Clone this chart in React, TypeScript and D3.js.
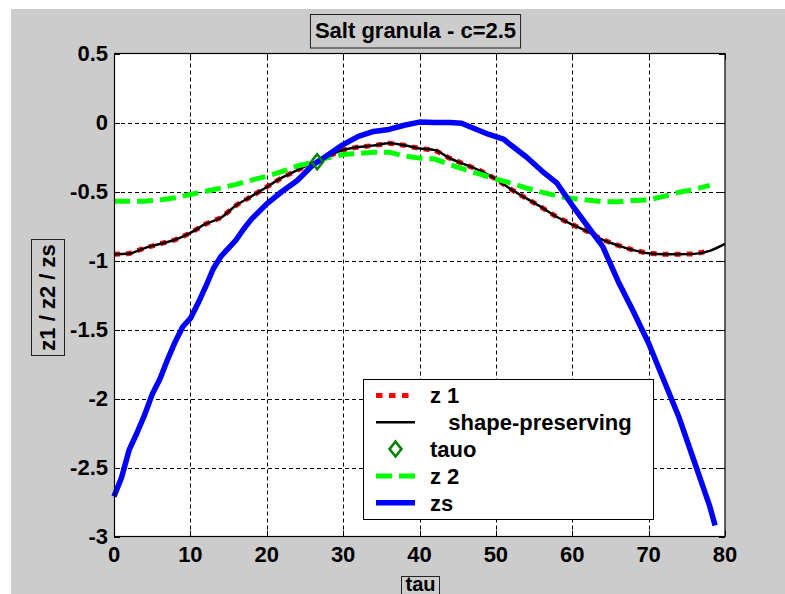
import React, { useRef, useEffect } from 'react';
import * as d3 from 'd3';

// z1 and z2 are sampled every 2 units of tau
const tauGrid = [0, 2, 4, 6, 8, 10, 12, 14, 16, 18, 20, 22, 24, 26, 28, 30, 32, 34, 36, 38,
  40, 42, 44, 46, 48, 50, 52, 54, 56, 58, 60, 62, 64, 66, 68, 70, 72, 74, 76, 78];
const z1Values = [-0.955, -0.95, -0.91, -0.88, -0.85, -0.8, -0.735, -0.69, -0.6, -0.535,
  -0.467, -0.4, -0.345, -0.295, -0.245, -0.198, -0.178, -0.167, -0.15, -0.165,
  -0.188, -0.2, -0.26, -0.305, -0.35, -0.41, -0.485, -0.55, -0.615, -0.685,
  -0.74, -0.79, -0.85, -0.89, -0.925, -0.948, -0.955, -0.955, -0.952, -0.93];
const z2Values = [-0.57, -0.57, -0.57, -0.562, -0.545, -0.522, -0.498, -0.475, -0.448, -0.418,
  -0.39, -0.355, -0.315, -0.29, -0.255, -0.232, -0.225, -0.215, -0.215, -0.243,
  -0.258, -0.265, -0.305, -0.342, -0.375, -0.41, -0.44, -0.475, -0.505, -0.532,
  -0.55, -0.562, -0.575, -0.575, -0.565, -0.56, -0.535, -0.505, -0.485, -0.455];
// the shape-preserving fit runs on to the end of the axis
const fitTau = [...tauGrid, 80];
const fitValues = [...z1Values, -0.88];

const zsTau = [0, 1, 2, 3, 4, 5, 6, 7, 8, 9, 10, 11, 12, 13, 14, 15, 16, 17, 18, 20, 22, 24, 26, 28,
  30, 32, 34, 36, 38, 40, 42, 44, 45.5, 47, 49, 51, 52, 54, 56, 58, 60, 62, 64, 66, 68, 70, 72,
  74, 76, 77, 78, 78.7];
const zsValues = [-2.71, -2.57, -2.37, -2.25, -2.12, -1.97, -1.86, -1.72, -1.59, -1.48, -1.42,
  -1.31, -1.19, -1.06, -0.97, -0.91, -0.85, -0.77, -0.7, -0.59, -0.5, -0.42, -0.31, -0.235,
  -0.16, -0.1, -0.065, -0.05, -0.02, 0.003, 0, 0, -0.005, -0.04, -0.085, -0.12, -0.165, -0.25,
  -0.35, -0.44, -0.6, -0.75, -0.9, -1.15, -1.37, -1.6, -1.87, -2.14, -2.46, -2.62, -2.78, -2.92];

const tauo = [26.6];
const tauoValue = [-0.285];

const xTicks = [0, 10, 20, 30, 40, 50, 60, 70, 80];
const yTicks = [0.5, 0, -0.5, -1, -1.5, -2, -2.5, -3];

const legendLabels = ['z 1', '   shape-preserving', 'tauo', 'z 2', 'zs'];

const FONT = '"Liberation Sans", Arial, sans-serif';

const App = () => {
  const svgRef = useRef<SVGSVGElement>(null);

  useEffect(() => {
    const width = 785;
    const height = 594;
    const left = 114, right = 725, top = 53.5, bottom = 536.5;
    const svg = d3.select(svgRef.current);
    svg.selectAll('*').remove();

    const x = d3.scaleLinear().domain([0, 80]).range([left, right]);
    const y = d3.scaleLinear().domain([-3, 0.5]).range([bottom, top]);

    svg.append('rect').attr('width', width).attr('height', height).attr('fill', '#ffffff');
    svg.append('rect').attr('x', 11).attr('y', 9).attr('width', width - 11).attr('height', height - 9)
      .attr('fill', '#cccccc');
    svg.append('rect').attr('x', left).attr('y', top).attr('width', right - left).attr('height', bottom - top)
      .attr('fill', '#ffffff');

    // grid
    const grid = svg.append('g').attr('stroke', '#000').attr('stroke-width', 1)
      .attr('stroke-dasharray', '4 3');
    grid.selectAll('line.gx').data(xTicks.slice(1, -1)).join('line')
      .attr('x1', d => Math.round(x(d)) + 0.5).attr('x2', d => Math.round(x(d)) + 0.5)
      .attr('y1', bottom).attr('y2', top);
    grid.selectAll('line.gy').data(yTicks.slice(1, -1)).join('line')
      .attr('y1', d => Math.round(y(d)) + 0.5).attr('y2', d => Math.round(y(d)) + 0.5)
      .attr('x1', left).attr('x2', right);

    // ticks inside on all four sides
    const tk = 6;
    const ticks = svg.append('g').attr('stroke', '#000').attr('stroke-width', 1);
    xTicks.forEach(t => {
      const px = Math.round(x(t)) + 0.5;
      ticks.append('line').attr('x1', px).attr('x2', px).attr('y1', bottom).attr('y2', bottom - tk);
      ticks.append('line').attr('x1', px).attr('x2', px).attr('y1', top).attr('y2', top + tk);
    });
    yTicks.forEach(t => {
      const py = Math.round(y(t)) + 0.5;
      ticks.append('line').attr('y1', py).attr('y2', py).attr('x1', left).attr('x2', left + tk);
      ticks.append('line').attr('y1', py).attr('y2', py).attr('x1', right).attr('x2', right - tk);
    });

    const plot = svg.append('g');

    const lineOf = (ts: number[], vs: number[], curve = d3.curveLinear) =>
      d3.line<number>().x((_, i) => x(ts[i])).y(d => y(d)).curve(curve)(vs);

    plot.append('path').attr('d', lineOf(tauGrid, z1Values)).attr('fill', 'none')
      .attr('stroke', '#ff0000').attr('stroke-width', 5).attr('stroke-dasharray', '6 6');
    plot.append('path').attr('d', lineOf(fitTau, fitValues, d3.curveMonotoneX)).attr('fill', 'none')
      .attr('stroke', '#000').attr('stroke-width', 2.5);
    plot.append('path').attr('d', lineOf(tauGrid, z2Values)).attr('fill', 'none')
      .attr('stroke', '#00ff00').attr('stroke-width', 5).attr('stroke-dasharray', '16 7');
    plot.append('path').attr('d', lineOf(zsTau, zsValues)).attr('fill', 'none')
      .attr('stroke', '#0000ff').attr('stroke-width', 5.5).attr('stroke-linejoin', 'round');

    const diamond = (cx: number, cy: number) =>
      `M${cx},${cy - 7.5}L${cx + 6},${cy}L${cx},${cy + 7.5}L${cx - 6},${cy}Z`;
    plot.selectAll('path.tauo').data(tauo).join('path')
      .attr('d', (d, i) => diamond(x(d), y(tauoValue[i])))
      .attr('fill', 'none').attr('stroke', '#008000').attr('stroke-width', 2.5);

    // axes box
    svg.append('rect').attr('x', left + 0.5).attr('y', top).attr('width', right - left - 0.5)
      .attr('height', bottom - top).attr('fill', 'none').attr('stroke', '#000').attr('stroke-width', 1.2);

    const text = svg.append('g').attr('font-family', FONT).attr('font-size', 22)
      .attr('font-weight', 'bold').attr('fill', '#000');

    text.selectAll('text.xt').data(xTicks).join('text')
      .attr('x', d => x(d)).attr('y', 562).attr('text-anchor', 'middle').text(d => d);
    text.selectAll('text.yt').data(yTicks).join('text')
      .attr('x', 108).attr('y', d => y(d)).attr('dy', '0.36em').attr('text-anchor', 'end').text(d => d);

    // title with box
    const title = text.append('text').attr('x', 415.5).attr('y', 37.5).attr('text-anchor', 'middle')
      .text('Salt granula - c=2.5');
    const tb = (title.node() as SVGTextElement).getBBox();
    svg.insert('rect', 'g').attr('x', tb.x - 4.5).attr('y', 14.5).attr('width', tb.width + 9).attr('height', 33.5)
      .attr('fill', '#cccccc').attr('stroke', '#222').attr('stroke-width', 1);

    // y label
    svg.append('rect').attr('x', 31.5).attr('y', 239.5).attr('width', 33).attr('height', 116)
      .attr('fill', 'none').attr('stroke', '#222').attr('stroke-width', 1);
    text.append('text').attr('transform', 'translate(55,297.5) rotate(-90)').attr('text-anchor', 'middle')
      .text('z1 / z2 / zs');

    // x label
    svg.append('rect').attr('x', 401.5).attr('y', 576.5).attr('width', 38).attr('height', 30)
      .attr('fill', 'none').attr('stroke', '#222').attr('stroke-width', 1);
    text.append('text').attr('x', 420.5).attr('y', 591).attr('font-size', 20).attr('text-anchor', 'middle')
      .text('tau');

    // legend
    const lg = svg.append('g');
    lg.append('rect').attr('x', 363.5).attr('y', 379.5).attr('width', 290).attr('height', 140)
      .attr('fill', '#ffffff').attr('stroke', '#000').attr('stroke-width', 1);
    const rowY = (i: number) => 395.5 + i * 26.8;
    const x0 = 376, x1 = 415;
    lg.append('line').attr('x1', x0).attr('x2', x1).attr('y1', rowY(0)).attr('y2', rowY(0))
      .attr('stroke', '#ff0000').attr('stroke-width', 5).attr('stroke-dasharray', '6.5 6.5');
    lg.append('line').attr('x1', x0).attr('x2', x1).attr('y1', rowY(1)).attr('y2', rowY(1))
      .attr('stroke', '#000').attr('stroke-width', 2.5);
    lg.append('path').attr('d', diamond((x0 + x1) / 2, rowY(2)))
      .attr('fill', 'none').attr('stroke', '#008000').attr('stroke-width', 2.5);
    lg.append('line').attr('x1', x0).attr('x2', x1).attr('y1', rowY(3)).attr('y2', rowY(3))
      .attr('stroke', '#00ff00').attr('stroke-width', 5).attr('stroke-dasharray', '16 7');
    lg.append('line').attr('x1', x0).attr('x2', x1).attr('y1', rowY(4)).attr('y2', rowY(4))
      .attr('stroke', '#0000ff').attr('stroke-width', 5.5);
    lg.selectAll('text').data(legendLabels).join('text')
      .attr('x', 430).attr('y', (_, i) => rowY(i)).attr('dy', '0.36em')
      .attr('font-family', FONT).attr('font-size', 22).attr('font-weight', 'bold')
      .attr('xml:space', 'preserve').style('white-space', 'pre').text(d => d);
  }, []);

  return (
    <svg ref={svgRef} width={785} height={594}
      style={{ position: 'absolute', left: 0, top: 0, display: 'block' }} />
  );
};

export default App;
